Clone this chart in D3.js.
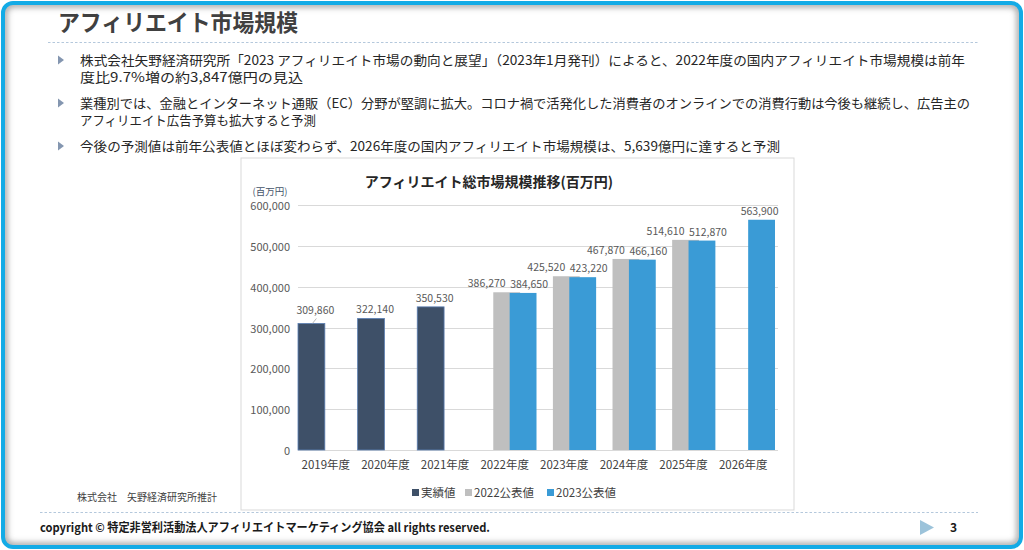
<!DOCTYPE html>
<html><head><meta charset="utf-8">
<script src="https://cdn.jsdelivr.net/npm/d3@7"></script>
<style>
html,body{margin:0;padding:0;background:#fff;}
svg{display:block;font-family:"Noto Sans CJK JP","Noto Sans",sans-serif;}
</style></head>
<body>
<svg id="c" width="1024" height="550"></svg>
<script>
// ---- data ----
const categories = ["2019年度","2020年度","2021年度","2022年度","2023年度","2024年度","2025年度","2026年度"];
const actualValues = [309860, 322140, 350530, null, null, null, null, null];
const pub2022Values = [null, null, null, 386270, 425520, 467870, 514610, null];
const pub2023Values = [null, null, null, 384650, 423220, 466160, 512870, 563900];
const seriesNames = ["実績値", "2022公表値", "2023公表値"];
const yTicks = [0, 100000, 200000, 300000, 400000, 500000, 600000];
const pageTitle = "アフィリエイト市場規模";
const chartTitle = "アフィリエイト総市場規模推移(百万円)";
const unitLabel = "(百万円)";
const bulletLines = [
  ["株式会社矢野経済研究所「2023 アフィリエイト市場の動向と展望」（2023年1月発刊）によると、2022年度の国内アフィリエイト市場規模は前年", "度比9.7%増の約3,847億円の見込"],
  ["業種別では、金融とインターネット通販（EC）分野が堅調に拡大。コロナ禍で活発化した消費者のオンラインでの消費行動は今後も継続し、広告主の", "アフィリエイト広告予算も拡大すると予測"],
  ["今後の予測値は前年公表値とほぼ変わらず、2026年度の国内アフィリエイト市場規模は、5,639億円に達すると予測"]
];
const sourceNote = "株式会社　矢野経済研究所推計";
const footerText = "copyright © 特定非営利活動法人アフィリエイトマーケティング協会 all rights reserved.";
const pageNumber = "3";

// ---- styles ----
const colors = ["#3e5068", "#bfbfbf", "#3a9bd6"];
const svg = d3.select("#c");

// frame
const defs = svg.append("defs");
const f = defs.append("filter").attr("id","blur").attr("x","-5%").attr("y","-5%").attr("width","110%").attr("height","110%");
f.append("feGaussianBlur").attr("stdDeviation", 3);
const clip = defs.append("clipPath").attr("id","inner");
clip.append("rect").attr("x",4).attr("y",4).attr("width",1016).attr("height",542).attr("rx",9);
svg.append("g").attr("clip-path","url(#inner)")
  .append("rect").attr("x",4).attr("y",4).attr("width",1016).attr("height",542).attr("rx",9)
  .attr("fill","none").attr("stroke","#9a9a9a").attr("stroke-width",6).attr("filter","url(#blur)");
svg.append("rect").attr("x",3).attr("y",3).attr("width",1018).attr("height",544).attr("rx",10)
  .attr("fill","none").attr("stroke","#13abe6").attr("stroke-width",4);

// title
svg.append("text").attr("x",58).attr("y",31).attr("font-size",23).attr("font-weight","bold")
  .attr("fill","#404040").attr("textLength",240).attr("lengthAdjust","spacingAndGlyphs").text(pageTitle);
svg.append("line").attr("x1",48).attr("x2",978).attr("y1",42.5).attr("y2",42.5)
  .attr("stroke","#b4c8dc").attr("stroke-width",1.2).attr("stroke-dasharray","2.5,2");

// bullets
const bulletY = [60, 103, 146];
const lineLens = [[885, 223],[890, 236],[700]];
bulletLines.forEach((lines, i) => {
  const y0 = bulletY[i];
  svg.append("path").attr("d", `M58,${y0-4.5} L64,${y0} L58,${y0+4.5} Z`).attr("fill","#8496b0");
  lines.forEach((t, j) => {
    svg.append("text").attr("x",80).attr("y",y0 + j*17 + 4.5).attr("font-size",13)
      .attr("fill","#262626").attr("textLength",lineLens[i][j]).attr("lengthAdjust","spacingAndGlyphs").text(t);
  });
});

// chart panel
svg.append("rect").attr("x",241).attr("y",158).attr("width",553).attr("height",352)
  .attr("fill","#fff").attr("stroke","#d9d9d9").attr("stroke-width",1);
svg.append("text").attr("x",489).attr("y",187).attr("text-anchor","middle").attr("font-size",14)
  .attr("font-weight","bold").attr("fill","#262626").text(chartTitle);
svg.append("text").attr("x",270).attr("y",195).attr("text-anchor","middle").attr("font-size",9.5)
  .attr("fill","#44546a").text(unitLabel);

const y = d3.scaleLinear().domain([0, 600000]).range([450, 205]);
const x = d3.scaleBand().domain(categories).range([298, 775]).padding(0);
const bw = x.bandwidth();
const w = bw * 0.45, step = bw * 0.275;

// grid
svg.append("g").selectAll("line").data(yTicks).join("line")
  .attr("x1", 298).attr("x2", 778)
  .attr("y1", d => Math.round(y(d)) + 0.5).attr("y2", d => Math.round(y(d)) + 0.5)
  .attr("stroke", "#d9d9d9").attr("stroke-width", 1);

// y axis labels via d3 axis
const yAxis = svg.append("g").attr("transform","translate(290,1)")
  .call(d3.axisLeft(y).tickValues(yTicks).tickFormat(d3.format(",")).tickSize(0).tickPadding(0));
yAxis.select(".domain").remove();
yAxis.selectAll("text").attr("font-size",11).attr("fill","#595959").attr("font-family","'Noto Sans CJK JP',sans-serif");

// x axis labels
const xAxis = svg.append("g").attr("transform","translate(-2,457)")
  .call(d3.axisBottom(x).tickSize(0).tickPadding(4));
xAxis.select(".domain").remove();
xAxis.selectAll("text").attr("font-size",11.5).attr("fill","#404040").attr("font-family","'Noto Sans CJK JP',sans-serif");

// bars
const series = [actualValues, pub2022Values, pub2023Values];
const labelDx = [4, -20, 6];
series.forEach((vals, si) => {
  const data = categories.map((c, i) => ({c, v: vals[i]})).filter(d => d.v != null);
  svg.append("g").selectAll("rect").data(data).join("rect")
    .attr("x", d => x(d.c) + si * step)
    .attr("y", d => y(d.v))
    .attr("width", w)
    .attr("height", d => y(0) - y(d.v))
    .attr("fill", colors[si])
    .attr("stroke", si === 0 ? "#5b7fb3" : "none").attr("stroke-width", 0.8);
});
series.forEach((vals, si) => {
  const data = categories.map((c, i) => ({c, v: vals[i], i})).filter(d => d.v != null);
  svg.append("g").selectAll("text").data(data).join("text")
    .attr("x", d => x(d.c) + si * step + w / 2 + (si === 2 && d.i === 7 ? -2 : labelDx[si]))
    .attr("y", d => y(d.v) - (si === 0 && d.i === 0 ? 9 : 5))
    .attr("text-anchor", "middle").attr("font-size", 10.5).attr("fill", "#595959")
    .text(d => d3.format(",")(d.v));
});
// leader line for first actual label
svg.append("line")
  .attr("x1", x(categories[0]) + w / 2 + 1).attr("y1", y(actualValues[0]))
  .attr("x2", x(categories[0]) + w / 2 + 5).attr("y2", y(actualValues[0]) - 5)
  .attr("stroke", "#a6a6a6").attr("stroke-width", 0.8);

// legend
const legendX = [412, 465, 547];
seriesNames.forEach((n, i) => {
  svg.append("rect").attr("x", legendX[i]).attr("y", 489).attr("width", 7).attr("height", 7).attr("fill", colors[i]);
  svg.append("text").attr("x", legendX[i] + 9).attr("y", 497).attr("font-size", 11.5).attr("fill", "#404040").text(n);
});

// source
svg.append("text").attr("x",77).attr("y",501).attr("font-size",10).attr("fill","#404040").text(sourceNote);

// footer
svg.append("line").attr("x1",40).attr("x2",978).attr("y1",512.5).attr("y2",512.5)
  .attr("stroke","#b4c8dc").attr("stroke-width",1.2).attr("stroke-dasharray","2.5,2");
svg.append("text").attr("x",40).attr("y",532).attr("font-size",12).attr("font-weight","bold")
  .attr("fill","#1a1a1a").attr("textLength",450).attr("lengthAdjust","spacingAndGlyphs").text(footerText);
svg.append("path").attr("d","M920,520 L934,527.5 L920,535 Z").attr("fill","#9cc3da");
svg.append("text").attr("x",950).attr("y",532).attr("font-size",12).attr("font-weight","bold").attr("fill","#1a1a1a").text(pageNumber);
</script>
</body></html>
